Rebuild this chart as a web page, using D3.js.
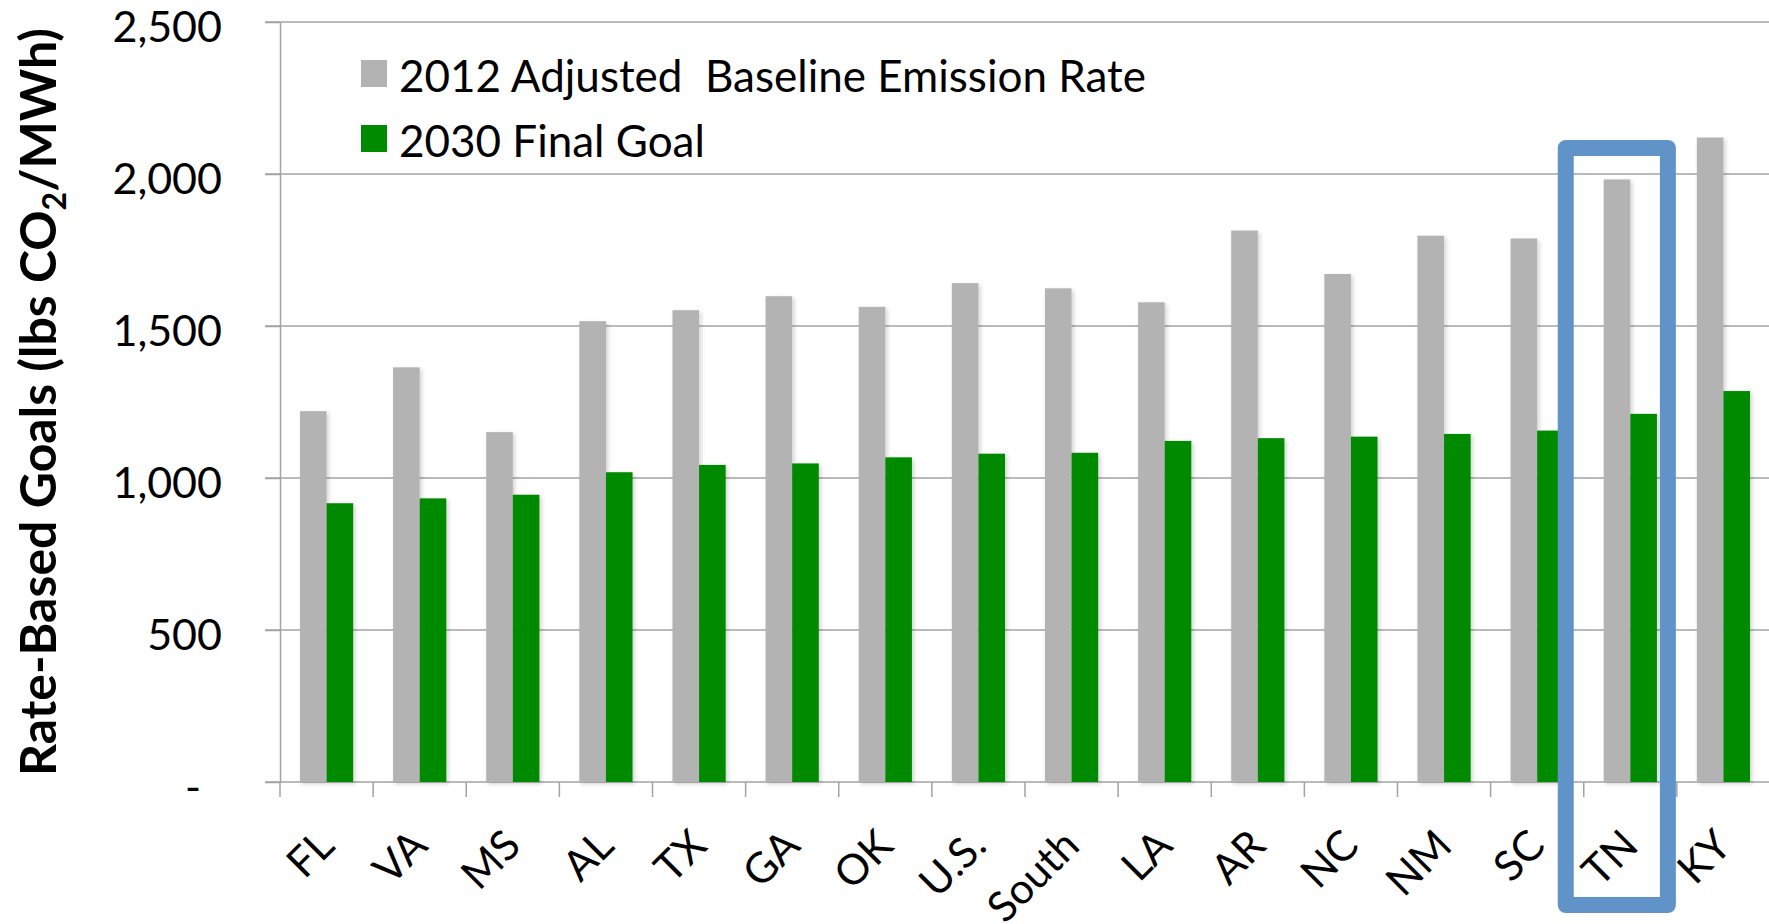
<!DOCTYPE html>
<html>
<head>
<meta charset="utf-8">
<script src="https://cdn.jsdelivr.net/npm/d3@7/dist/d3.min.js"></script>
<style>
  html, body { margin: 0; padding: 0; background: #fff; }
  svg { display: block; }
  text { font-family: Lato, "Open Sans", sans-serif; }
</style>
</head>
<body>
<script>
const categories = ["FL","VA","MS","AL","TX","GA","OK","U.S.","South","LA","AR","NC","NM","SC","TN","KY"];
const baseline2012 = [1220,1364,1151,1516,1552,1598,1563,1641,1624,1578,1814,1671,1797,1788,1982,2120];
const goal2030 = [917,933,945,1019,1043,1048,1068,1080,1083,1122,1131,1136,1145,1156,1211,1286];
const yTicks = [0,500,1000,1500,2000,2500];
const seriesNames = ["2012 Adjusted  Baseline Emission Rate","2030 Final Goal"];
const seriesColors = ["#b3b3b3","#008a00"];
const highlighted = "TN";

const W = 1769, H = 924;
const svg = d3.select("body").append("svg").attr("width", W).attr("height", H);
svg.append("rect").attr("width", W).attr("height", H).attr("fill", "#fff");

const defs = svg.append("defs");
const f = defs.append("filter").attr("id","sh").attr("x","-20%").attr("y","-5%").attr("width","150%").attr("height","115%");
f.append("feDropShadow").attr("dx",2).attr("dy",2).attr("stdDeviation",2).attr("flood-color","#000").attr("flood-opacity",0.18);

const x = d3.scaleBand().domain(categories).range([280, 1770]).paddingInner(0).paddingOuter(0);
const xs = d3.scaleBand().domain([0,1]).range([0, x.bandwidth()]).paddingInner(0).paddingOuter(0.75);
const y = d3.scaleLinear().domain([0, 2500]).range([782, 22]);

const gridColor = "#a3a3a3";

// gridlines
svg.append("g").selectAll("line").data(yTicks).join("line")
  .attr("x1", 265).attr("x2", W)
  .attr("y1", d => y(d)).attr("y2", d => y(d))
  .attr("stroke", gridColor).attr("stroke-width", 1.5);

// y axis
const yAxis = d3.axisLeft(y).tickValues(yTicks).tickSize(15).tickSizeOuter(0)
  .tickFormat(d => d === 0 ? "-" : d3.format(",")(d));
const gy = svg.append("g").attr("transform", "translate(280,0)").call(yAxis);
gy.select(".domain").attr("stroke", gridColor).attr("stroke-width", 1.5);
gy.selectAll(".tick line").attr("stroke", gridColor).attr("stroke-width", 1.5);
gy.selectAll(".tick text")
  .attr("x", d => d === 0 ? -79 : -58)
  .attr("dy", "0.46em")
  .attr("font-size", 43).attr("fill", "#000")
  .attr("font-family", "Lato, 'Open Sans', sans-serif");

// x axis ticks at band boundaries
const bounds = categories.map(c => x(c)).concat([x.range()[1]]);
svg.append("g").selectAll("line").data(bounds).join("line")
  .attr("x1", d => d).attr("x2", d => d)
  .attr("y1", y(0)).attr("y2", y(0) + 15)
  .attr("stroke", gridColor).attr("stroke-width", 1.5);

// bars
const data = categories.map((c, i) => ({c, v: [baseline2012[i], goal2030[i]]}));
const gb = svg.append("g").attr("filter", "url(#sh)");
data.forEach(d => {
  d.v.forEach((v, k) => {
    gb.append("rect")
      .attr("x", x(d.c) + xs(k))
      .attr("y", y(v))
      .attr("width", xs.bandwidth())
      .attr("height", y(0) - y(v))
      .attr("fill", seriesColors[k]);
  });
});

// x labels
svg.append("g").selectAll("text").data(categories).join("text")
  .attr("transform", c => `translate(${x(c) + x.bandwidth()/2 + 10},848) rotate(-45)`)
  .attr("text-anchor", "end")
  .attr("font-size", 42).attr("fill", "#000")
  .text(c => c);

// legend
const lg = svg.append("g");
seriesNames.forEach((n, i) => {
  lg.append("rect").attr("x", 361).attr("y", 60 + i * 65).attr("width", 26).attr("height", 27)
    .attr("fill", seriesColors[i]);
  lg.append("text").attr("x", 399).attr("y", 92 + i * 65)
    .attr("font-size", 44).attr("fill", "#000")
    .style("white-space", "pre")
    .text(n);
});

// y title
const yt = svg.append("text")
  .attr("transform", "translate(56,402) rotate(-90)")
  .attr("text-anchor", "middle")
  .attr("font-size", 50).attr("font-weight", "bold").attr("fill", "#000");
yt.append("tspan").text("Rate-Based Goals (lbs CO");
yt.append("tspan").attr("font-size", 32).attr("dy", 10).text("2");
yt.append("tspan").attr("dy", -10).text("/MWh)");

// highlight box around TN
const bx0 = x(highlighted) - 18, bx1 = x(highlighted) + x.bandwidth() - 9;
svg.append("rect")
  .attr("x", bx0).attr("y", 148)
  .attr("width", bx1 - bx0).attr("height", 905 - 148)
  .attr("fill", "none").attr("stroke", "#6094c9").attr("stroke-width", 16)
  .attr("stroke-linejoin", "round");
</script>
</body>
</html>
